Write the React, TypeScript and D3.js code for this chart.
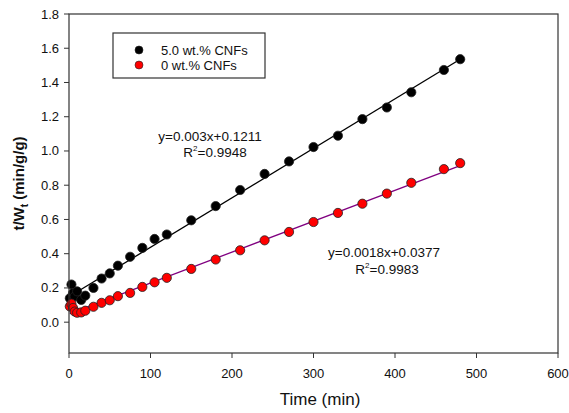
import React from "react";
import { scaleLinear, line as d3_line } from "d3";

// 5.0 wt.% CNFs
const timeCNF5 = [1, 3, 5, 7, 10, 15, 20, 30, 40, 50, 60, 75, 90, 105, 120, 150, 180, 210, 240, 270, 300, 330, 360, 390, 420, 460, 480];
const valueCNF5 = [0.14, 0.22, 0.17, 0.15, 0.18, 0.13, 0.155, 0.2, 0.255, 0.285, 0.33, 0.382, 0.434, 0.486, 0.512, 0.595, 0.678, 0.772, 0.866, 0.939, 1.023, 1.089, 1.186, 1.254, 1.343, 1.473, 1.536];

// 0 wt.% CNFs
const time0 = [1, 3, 5, 7, 10, 15, 20, 30, 40, 50, 60, 75, 90, 105, 120, 150, 180, 210, 240, 270, 300, 330, 360, 390, 420, 460, 480];
const value0 = [0.092, 0.108, 0.083, 0.062, 0.055, 0.057, 0.067, 0.09, 0.113, 0.128, 0.152, 0.171, 0.206, 0.233, 0.259, 0.311, 0.366, 0.42, 0.478, 0.527, 0.585, 0.638, 0.692, 0.751, 0.814, 0.894, 0.929];

const xTicks = [0, 100, 200, 300, 400, 500, 600];
const yTicks = [0, 0.2, 0.4, 0.6, 0.8, 1.0, 1.2, 1.4, 1.6, 1.8];

const legendLabels = ["5.0 wt.% CNFs", "0 wt.% CNFs"];
const eqCNF5 = ["y=0.003x+0.1211", "0.9948"];
const eq0 = ["y=0.0018x+0.0377", "0.9983"];

const W = 569;
const H = 413;
const margin = { top: 14, right: 11, bottom: 60, left: 69 };
const font = "'Liberation Sans', Arial, sans-serif";

function fit(xs: number[], ys: number[]) {
  const n = xs.length;
  const mx = xs.reduce((a, b) => a + b, 0) / n;
  const my = ys.reduce((a, b) => a + b, 0) / n;
  let sxy = 0, sxx = 0;
  xs.forEach((x, i) => { sxy += (x - mx) * (ys[i] - my); sxx += (x - mx) * (x - mx); });
  const slope = sxy / sxx;
  return { slope, intercept: my - slope * mx };
}

export default function App() {
  const x = scaleLinear().domain([0, 600]).range([margin.left, W - margin.right]);
  const y = scaleLinear().domain([-0.18, 1.8]).range([H - margin.bottom, margin.top]);

  const series = [
    { xs: timeCNF5, ys: valueCNF5, fill: "#000", lineColor: "#000" },
    { xs: time0, ys: value0, fill: "#ff0000", lineColor: "#800080" },
  ];

  const lineGen = d3_line<[number, number]>().x((d) => x(d[0])).y((d) => y(d[1]));

  const x0 = margin.left, x1 = W - margin.right, y0 = margin.top, y1 = H - margin.bottom;

  return (
    <svg width={W} height={H} style={{ position: "absolute", left: 0, top: 0, fontFamily: font }}>
      <rect x={0} y={0} width={W} height={H} fill="#fff" />

      {/* fit lines */}
      {series.map((s, i) => {
        const f = fit(s.xs, s.ys);
        const xa = Math.min(...s.xs), xb = Math.max(...s.xs);
        const pts: [number, number][] = [[xa, f.intercept + f.slope * xa], [xb, f.intercept + f.slope * xb]];
        return <path key={"l" + i} d={lineGen(pts) || ""} stroke={s.lineColor} strokeWidth={1.3} fill="none" />;
      })}

      {/* points */}
      {series.map((s, i) => (
        <g key={"p" + i}>
          {s.xs.map((t, j) => (
            <circle key={j} cx={x(t)} cy={y(s.ys[j])} r={4.6} fill={s.fill} stroke="#222" strokeWidth={0.8} />
          ))}
        </g>
      ))}

      {/* frame */}
      <rect x={x0} y={y0} width={x1 - x0} height={y1 - y0} fill="none" stroke="#333" strokeWidth={1.2} />

      {/* x axis */}
      {xTicks.map((t) => (
        <g key={"x" + t}>
          <line x1={x(t)} x2={x(t)} y1={y1} y2={y1 + 5} stroke="#333" strokeWidth={1} />
          <text x={x(t)} y={y1 + 25} textAnchor="middle" fontSize={13} fill="#111">{t}</text>
        </g>
      ))}
      {/* y axis */}
      {yTicks.map((t) => (
        <g key={"y" + t}>
          <line x1={x0 - 5} x2={x0} y1={y(t)} y2={y(t)} stroke="#333" strokeWidth={1} />
          <text x={x0 - 10} y={y(t) + 4.5} textAnchor="end" fontSize={13} fill="#111">{t.toFixed(1)}</text>
        </g>
      ))}

      <text x={320} y={405} textAnchor="middle" fontSize={17} fill="#111">Time (min)</text>
      <text transform={`translate(24,${(y0 + y1) / 2}) rotate(-90)`} textAnchor="middle" fontSize={15} fontWeight="bold" fill="#111">
        t/W<tspan fontSize={10} dy={4}>t</tspan><tspan dy={-4}> (min/g/g)</tspan>
      </text>

      {/* legend */}
      <rect x={113} y={33} width={152} height={45} fill="#fff" stroke="#333" strokeWidth={1.2} />
      {legendLabels.map((lab, i) => (
        <g key={"lg" + i}>
          <circle cx={139} cy={50 + i * 15} r={4} fill={series[i].fill} stroke="#222" strokeWidth={0.6} />
          <text x={161} y={55 + i * 15} fontSize={13} fill="#111">{lab}</text>
        </g>
      ))}

      {/* equations */}
      <text x={210} y={141} textAnchor="middle" fontSize={13.5} fill="#111">{eqCNF5[0]}</text>
      <text x={215} y={157} textAnchor="middle" fontSize={13.5} fill="#111">
        R<tspan fontSize={8} dy={-6}>2</tspan><tspan dy={6}>={eqCNF5[1]}</tspan>
      </text>
      <text x={384} y={257} textAnchor="middle" fontSize={13.5} fill="#111">{eq0[0]}</text>
      <text x={387} y={274} textAnchor="middle" fontSize={13.5} fill="#111">
        R<tspan fontSize={8} dy={-6}>2</tspan><tspan dy={6}>={eq0[1]}</tspan>
      </text>
    </svg>
  );
}
